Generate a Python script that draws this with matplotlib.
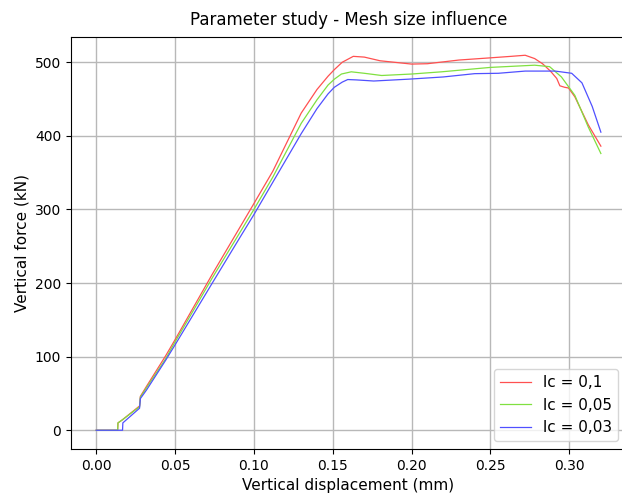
"""Parameter study plot: force-displacement curves for three mesh sizes."""

import matplotlib
matplotlib.use("Agg")
import matplotlib.pyplot as plt

# lc = 0,1
disp_01 = [0.0, 0.0136, 0.0138, 0.0165, 0.0275, 0.028, 0.032, 0.044, 0.05, 0.0736,
           0.10, 0.112, 0.13, 0.14, 0.147, 0.151, 0.156, 0.163, 0.17, 0.18, 0.20,
           0.21, 0.23, 0.25, 0.263, 0.272, 0.278, 0.283, 0.288, 0.292, 0.294,
           0.297, 0.2995, 0.3035, 0.312, 0.320]
force_01 = [0, 0, 10, 14, 33, 46, 60, 101, 123, 212,
            308, 352, 431, 463, 481, 490, 500, 508, 507, 502, 497.5,
            498, 503, 506, 508, 509.5, 505, 498, 488, 478, 468,
            466, 465, 453, 415, 386]

# lc = 0,05
disp_005 = [0.0, 0.0136, 0.0138, 0.0165, 0.0275, 0.028, 0.032, 0.044, 0.05, 0.0736,
            0.10, 0.112, 0.13, 0.14, 0.147, 0.151, 0.1555, 0.1617, 0.17, 0.181,
            0.20, 0.219, 0.25, 0.278, 0.2875, 0.295, 0.3035, 0.312, 0.320]
force_005 = [0, 0, 10, 14, 32, 45, 58, 97, 120, 207,
             300, 344, 417, 449, 469, 477, 484, 487, 485, 482,
             484, 487, 493, 496, 494, 480, 455, 412, 376]

# lc = 0,03
disp_003 = [0.0, 0.0167, 0.0169, 0.0275, 0.028, 0.032, 0.044, 0.05, 0.0736, 0.092,
            0.10, 0.112, 0.13, 0.14, 0.147, 0.151, 0.156, 0.1595, 0.165, 0.176,
            0.198, 0.22, 0.24, 0.255, 0.272, 0.291, 0.3015, 0.308, 0.3145, 0.320]
force_003 = [0, 0, 10, 30, 43, 55, 95, 116, 200, 265,
             293, 337, 403, 437, 457, 466, 473, 476.5, 476, 474.5,
             477, 480, 484.5, 485, 488, 488, 485, 472, 440, 405]

labels = ["lc = 0,1", "lc = 0,05", "lc = 0,03"]
colors = ["#ff5050", "#80e040", "#5050ff"]

fig = plt.figure(figsize=(6.22, 4.98), dpi=100)
ax = fig.add_axes([0.1141, 0.0984, 0.8925, 0.8283])

for x, y, lab, col in zip([disp_01, disp_005, disp_003],
                          [force_01, force_005, force_003], labels, colors):
    ax.plot(x, y, color=col, lw=0.9, label=lab)

ax.set_xticks([0.00, 0.05, 0.10, 0.15, 0.20, 0.25, 0.30])
ax.set_yticks([0, 100, 200, 300, 400, 500])
ax.grid(True, color="#b8b8b8", lw=1.0)
# the reference is cropped just before the right frame line
ax.spines["right"].set_visible(False)
ax.set_xlabel("Vertical displacement (mm)", fontsize=11)
ax.set_ylabel("Vertical force (kN)", fontsize=11)
ax.set_title("Parameter study - Mesh size influence", fontsize=12, pad=8)
ax.legend(loc="lower right", fontsize=11)

fig.savefig("out.png", dpi=100)
